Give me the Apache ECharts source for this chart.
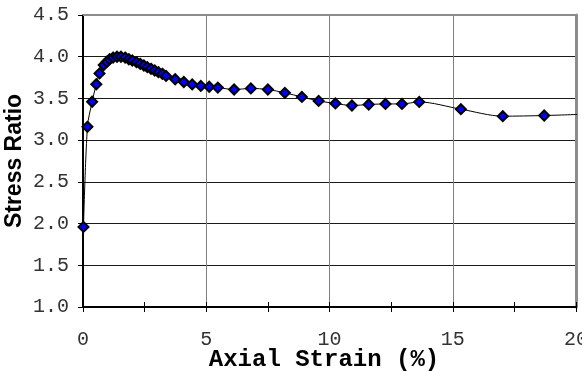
<!DOCTYPE html>
<html>
<head>
<meta charset="utf-8">
<script src="https://cdn.jsdelivr.net/npm/echarts@6/dist/echarts.min.js"></script>
<style>
  html, body { margin: 0; padding: 0; background: #fff; }
  #chart { width: 582px; height: 372px; }
</style>
</head>
<body>
<div id="chart"></div>
<script>
// axial strain (%)
const strain = [0.02, 0.18, 0.37, 0.54, 0.67, 0.84, 0.97, 1.08, 1.22, 1.38, 1.54, 1.71, 1.86, 2.0, 2.17, 2.32,
  2.47, 2.61, 2.76, 2.91, 3.06, 3.22, 3.37, 3.74, 4.09, 4.43, 4.78, 5.12, 5.47, 6.13, 6.81, 7.5, 8.19,
  8.88, 9.56, 10.24, 10.91, 11.59, 12.27, 12.94, 13.64, 15.33, 17.03, 18.71, 20.25];
// stress ratio
const stressRatio = [1.96, 3.16, 3.46, 3.67, 3.80, 3.90, 3.94, 3.97, 3.99, 4.00, 4.00, 3.99, 3.97, 3.955, 3.935, 3.915,
  3.895, 3.875, 3.855, 3.835, 3.815, 3.795, 3.77, 3.73, 3.697, 3.668, 3.65, 3.64, 3.63, 3.607, 3.62, 3.607, 3.567,
  3.518, 3.47, 3.44, 3.415, 3.427, 3.434, 3.434, 3.458, 3.371, 3.287, 3.295, 3.31];
// last point runs off the plot edge, no marker there
const hiddenMarker = [44];

const xTicks = [0, 5, 10, 15, 20];
const yTicks = [1.0, 1.5, 2.0, 2.5, 3.0, 3.5, 4.0, 4.5];

const mono = "'Courier New', 'Liberation Mono', monospace";

const chart = echarts.init(document.getElementById('chart'));

const seriesData = strain.map((x, i) => {
  const item = { value: [x, stressRatio[i]] };
  if (hiddenMarker.indexOf(i) >= 0) item.symbol = 'none';
  return item;
});

const option = {
  animation: false,
  grid: { left: 83, right: 6, top: 15, bottom: 65, outerBoundsMode: 'none', containLabel: false },
  xAxis: [
    {
      type: 'value',
      position: 'bottom',
      min: xTicks[0],
      max: xTicks[xTicks.length - 1],
      interval: 5,
      name: 'Axial Strain (%)',
      nameLocation: 'middle',
      nameGap: 41,
      nameMoveOverlap: false,
      nameTextStyle: { fontFamily: mono, fontWeight: 'bold', fontSize: 24, color: '#000', padding: [0, 11, 0, 0] },
      axisLine: { onZero: false, lineStyle: { color: '#000', width: 2 } },
      axisTick: { length: 5, lineStyle: { color: '#000' } },
      minorTick: { show: true, splitNumber: 2, length: 5, lineStyle: { color: '#000' } },
      axisLabel: { margin: 23, fontFamily: mono, fontSize: 20, color: '#333' },
      splitLine: { show: true, lineStyle: { color: '#808080', width: 1 } }
    },
    {
      // inner half of the crossing ticks
      type: 'value',
      position: 'bottom',
      min: xTicks[0],
      max: xTicks[xTicks.length - 1],
      interval: 5,
      axisLine: { show: false, onZero: false },
      axisTick: { inside: true, length: 5, lineStyle: { color: '#000' } },
      minorTick: { show: true, splitNumber: 2, length: 5, lineStyle: { color: '#000' } },
      axisLabel: { show: false },
      splitLine: { show: false }
    },
    {
      // top border
      type: 'value',
      position: 'top',
      min: xTicks[0],
      max: xTicks[xTicks.length - 1],
      axisLine: { onZero: false, lineStyle: { color: '#8c8c8c', width: 2 } },
      axisTick: { show: false },
      axisLabel: { show: false },
      splitLine: { show: false }
    }
  ],
  yAxis: [
    {
      type: 'value',
      min: yTicks[0],
      max: yTicks[yTicks.length - 1],
      interval: 0.5,
      name: 'Stress Ratio',
      nameLocation: 'middle',
      nameRotate: 90,
      nameGap: 57,
      nameMoveOverlap: false,
      nameTextStyle: { fontFamily: "'Liberation Sans', Arial, sans-serif", fontWeight: 'bold', fontSize: 23, color: '#000' },
      axisLine: { onZero: false, lineStyle: { color: '#000', width: 2 } },
      axisTick: { length: 5, lineStyle: { color: '#000' } },
      axisLabel: {
        margin: 14,
        fontFamily: mono,
        fontSize: 20,
        color: '#333',
        formatter: v => v.toFixed(1)
      },
      splitLine: { show: true, lineStyle: { color: '#1a1a1a', width: 1 } }
    },
    {
      // right border
      type: 'value',
      position: 'right',
      min: yTicks[0],
      max: yTicks[yTicks.length - 1],
      axisLine: { show: true, onZero: false, lineStyle: { color: '#8c8c8c', width: 3 } },
      axisTick: { show: false },
      axisLabel: { show: false },
      splitLine: { show: false }
    }
  ],
  series: [
    {
      type: 'line',
      xAxisIndex: 0,
      yAxisIndex: 0,
      data: seriesData,
      clip: false,
      smooth: 0.3,
      symbol: 'diamond',
      symbolSize: 10,
      showAllSymbol: true,
      lineStyle: { color: '#000', width: 1 },
      itemStyle: { color: '#0000ff', borderColor: '#000', borderWidth: 2 },
      z: 5
    }
  ]
};

chart.setOption(option);
</script>
</body>
</html>
